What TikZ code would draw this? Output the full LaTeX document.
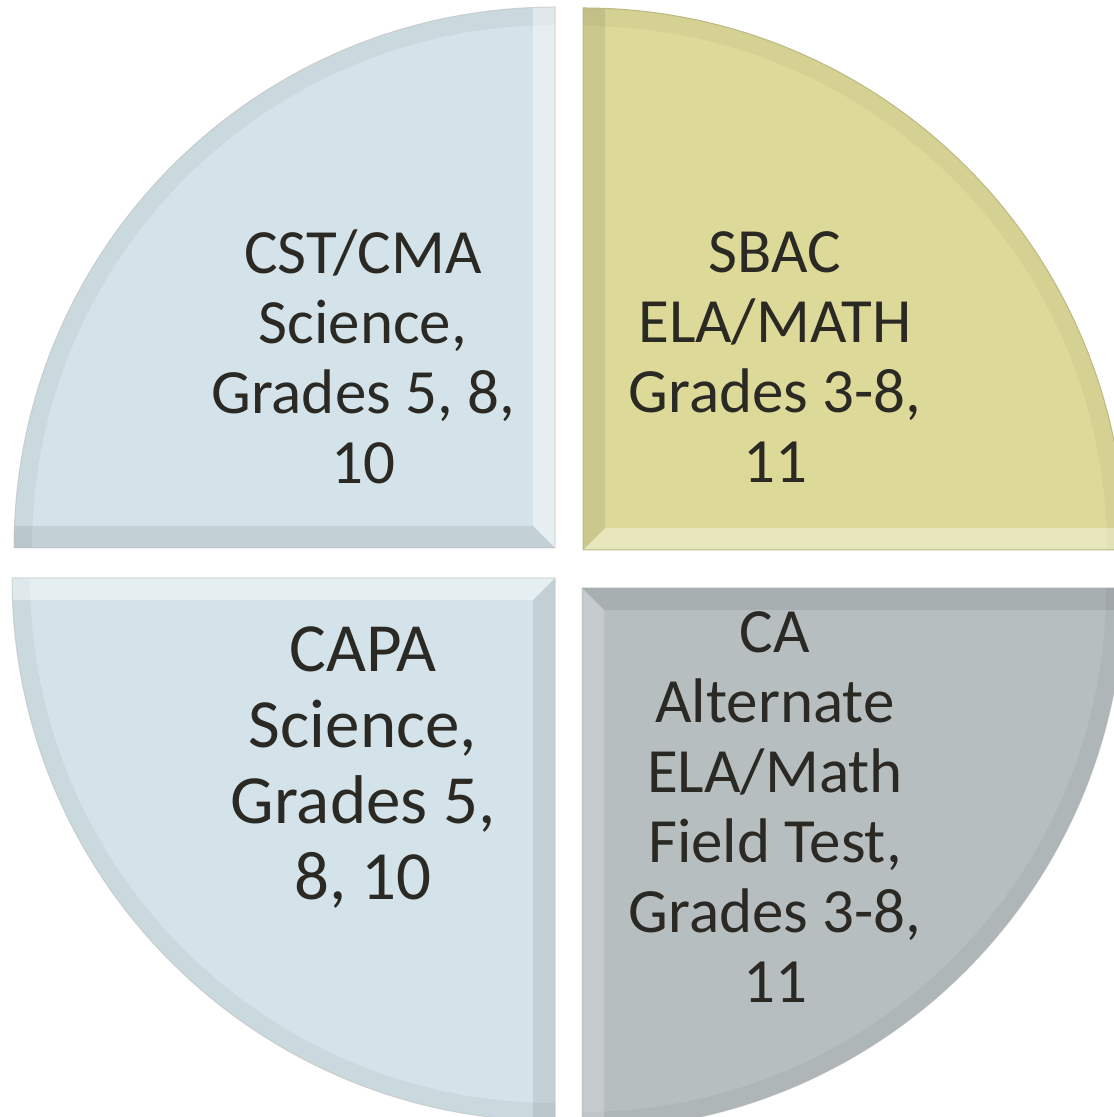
\documentclass[tikz,border=0pt]{standalone}
\usepackage{fontspec}
\setmainfont{Carlito}
\begin{document}
\begin{tikzpicture}[x=1pt,y=1pt,
  lbl/.style={align=center,inner sep=0pt,text=txtc,font=\fontsize{63}{70}\selectfont},
  lblbig/.style={align=center,inner sep=0pt,text=txtc,font=\fontsize{69}{76}\selectfont},
  hi/.style={fill=white,fill opacity=0.4},
  sh/.style={fill=black,fill opacity=0.08},
  rim/.style={draw=black!30,draw opacity=0.45,line width=1pt}]
\definecolor{bluec}{HTML}{D4E3E9}
\definecolor{yelc}{HTML}{DDDA99}
\definecolor{grayc}{HTML}{B7BEC0}
\definecolor{txtc}{HTML}{2B2924}
\useasboundingbox (0,0) rectangle (1114,1117);
\clip (0,0) rectangle (1114,1117);
\def\w{22}
% ---------- top left
\begin{scope}
\clip (555,569) -- ++(0,541) arc[start angle=90,end angle=180,radius=541] -- cycle;
\fill[bluec] (0,0) rectangle (1114,1117);
\draw[line width=36pt,black,opacity=0.045] (555,569) ++(0,541) arc[start angle=90,end angle=180,radius=541];
\fill[hi] (555,569) -- (555-\w,569+\w) -- (555-\w,1117) -- (555,1117) -- cycle;
\fill[sh] (555,569) -- (555-\w,569+\w) -- (0,569+\w) -- (0,569) -- cycle;
\end{scope}
\draw[rim] (555,569) -- ++(0,541) arc[start angle=90,end angle=180,radius=541] -- cycle;
% ---------- top right
\begin{scope}
\clip (583,567) -- ++(542,0) arc[start angle=0,end angle=90,radius=542] -- cycle;
\fill[yelc] (0,0) rectangle (1114,1117);
\draw[line width=36pt,black,opacity=0.04] (583,567) ++(542,0) arc[start angle=0,end angle=90,radius=542];
\fill[sh] (583,567) -- (583+\w,567+\w) -- (583+\w,1117) -- (583,1117) -- cycle;
\fill[fill=white,fill opacity=0.35] (583,567) -- (583+\w,567+\w) -- (1114,567+\w) -- (1114,567) -- cycle;
\end{scope}
\draw[draw=yelc!85!black,line width=1pt] (583,567) -- ++(542,0) arc[start angle=0,end angle=90,radius=542] -- cycle;
% ---------- bottom left
\begin{scope}
\clip (555,539) -- ++(-543,0) arc[start angle=180,end angle=270,radius=543] -- cycle;
\fill[bluec] (0,0) rectangle (1114,1117);
\draw[line width=36pt,black,opacity=0.045] (555,539) ++(-543,0) arc[start angle=180,end angle=270,radius=543];
\fill[hi] (555,539) -- (555-\w,539-\w) -- (0,539-\w) -- (0,539) -- cycle;
\fill[sh] (555,539) -- (555-\w,539-\w) -- (555-\w,0) -- (555,0) -- cycle;
\end{scope}
\draw[rim] (555,539) -- ++(-543,0) arc[start angle=180,end angle=270,radius=543] -- cycle;
% ---------- bottom right
\begin{scope}
\clip (582,529) -- ++(0,-542) arc[start angle=270,end angle=360,radius=542] -- cycle;
\fill[grayc] (0,0) rectangle (1114,1117);
\draw[line width=36pt,black,opacity=0.04] (582,529) ++(0,-542) arc[start angle=270,end angle=360,radius=542];
\fill[sh] (582,529) -- (582+\w,529-\w) -- (1114,529-\w) -- (1114,529) -- cycle;
\fill[hi,fill opacity=0.2] (582,529) -- (582+\w,529-\w) -- (582+\w,0) -- (582,0) -- cycle;
\end{scope}
\draw[rim] (582,529) -- ++(0,-542) arc[start angle=270,end angle=360,radius=542] -- cycle;
% ---------- labels
\node[lbl] (tl) at (363,760) {CST/CMA\\Science,\\Grades 5, 8,\\10};
\node[lbl] (tr) at (775,760) {SBAC\\ELA/MATH\\Grades 3-8,\\11};
\node[lblbig] (bl) at (363,349) {CAPA\\Science,\\Grades 5,\\8, 10};
\node[lbl] (br) at (775,310) {CA\\Alternate\\ELA/Math\\Field Test,\\Grades 3-8,\\11};
\end{tikzpicture}
\end{document}
